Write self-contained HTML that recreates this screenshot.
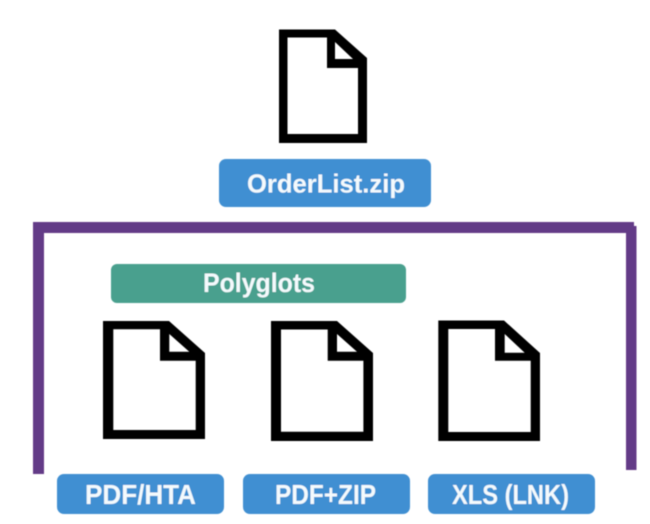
<!DOCTYPE html>
<html>
<head>
<meta charset="utf-8">
<style>
html,body{margin:0;padding:0;background:#fff;width:650px;height:524px;overflow:hidden}
svg{display:block}
text{font-family:"Liberation Sans",sans-serif;font-weight:bold;fill:#f4fafd}
</style>
</head>
<body>
<svg width="650" height="524" viewBox="0 0 650 524" xmlns="http://www.w3.org/2000/svg">
<defs><filter id="b" x="-5%" y="-5%" width="110%" height="110%"><feGaussianBlur stdDeviation="0.55"/></filter></defs>
<g filter="url(#b)">
<g fill="#643a87">
<rect x="33" y="222" width="601" height="11"/>
<rect x="33" y="222" width="11" height="252"/>
<rect x="626" y="226" width="10.500" height="244"/>
</g>
<g fill="#000" fill-rule="evenodd">
<path d="M279 29.500H335L367 58V143H279Z M287.500 37.500V134H358V68H327V37.500Z M335 42V59H353Z"/>
<path d="M103 321H169L205 353V439H103Z M113.300 329.300V430H195.700V360.700H160V329.300Z M169.300 334V351.700H189.300Z"/>
<path d="M271 321H337L373 353V441H271Z M281 329.500V431.700H363.400V360.700H327.700V329.500Z M337 334V351.700H357Z"/>
<path d="M438.300 320.500H504L540 353V441H438.300Z M448.300 329V432H530.700V360.700H495V329Z M504.700 334V352.700H524.700Z"/>
</g>
<rect x="219" y="159" width="212" height="48" rx="7" fill="#3f8fd2"/>
<rect x="111" y="264" width="295" height="39" rx="6" fill="#49a08e"/>
<rect x="57" y="474" width="167" height="40" rx="7" fill="#3f8fd2"/>
<rect x="243" y="474" width="167" height="40" rx="7" fill="#3f8fd2"/>
<rect x="428" y="474" width="167" height="40" rx="7" fill="#3f8fd2"/>
<text x="247" y="192.500" font-size="26" textLength="158" lengthAdjust="spacingAndGlyphs">OrderList.zip</text>
<text x="203" y="292" font-size="26.500" textLength="112" lengthAdjust="spacingAndGlyphs">Polyglots</text>
<text x="85" y="504" font-size="27.500" textLength="111" lengthAdjust="spacingAndGlyphs">PDF/HTA</text>
<text x="275" y="504" font-size="27.500" textLength="101" lengthAdjust="spacingAndGlyphs">PDF+ZIP</text>
<text x="452" y="504" font-size="27.500" textLength="117" lengthAdjust="spacingAndGlyphs">XLS (LNK)</text>
</g>
</svg>
</body>
</html>
